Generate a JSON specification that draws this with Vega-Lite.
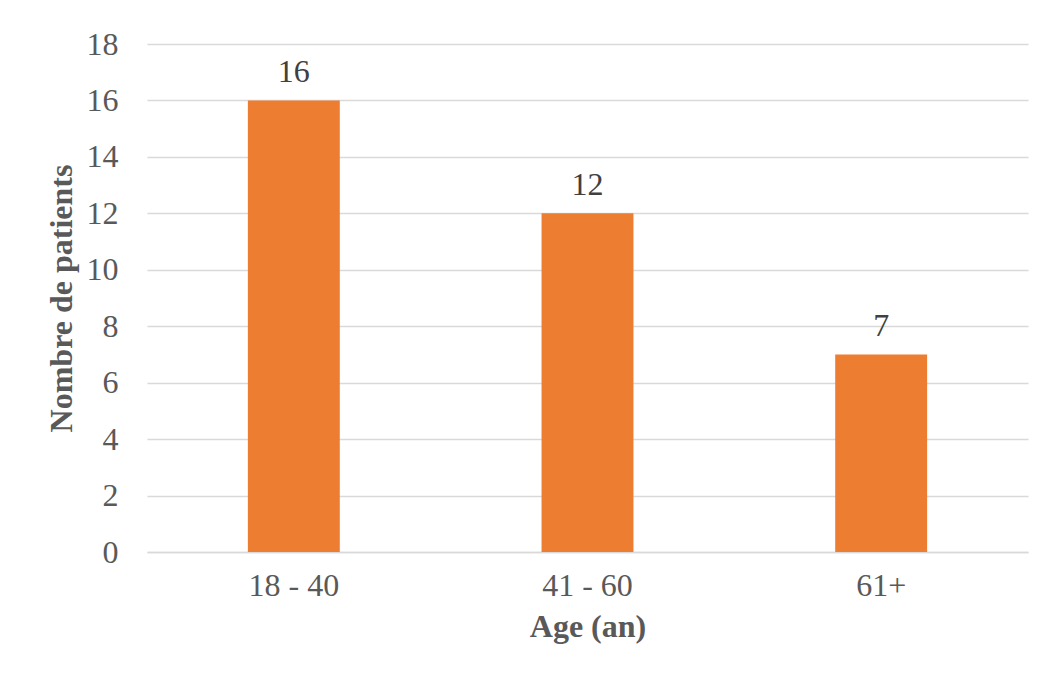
{
  "$schema": "https://vega.github.io/schema/vega-lite/v6.json",
  "autosize": {"type": "none"},
  "width": 881,
  "height": 508,
  "padding": {"left": 147, "top": 44, "right": 15, "bottom": 127},
  "background": "white",
  "config": {
    "font": "Liberation Serif",
    "view": {"stroke": null},
    "axis": {"labelFont": "Liberation Serif", "titleFont": "Liberation Serif"}
  },
  "data": {
    "values": [
      {"age": "18 - 40", "patients": 16},
      {"age": "41 - 60", "patients": 12},
      {"age": "61+", "patients": 7}
    ]
  },
  "encoding": {
    "x": {
      "field": "age",
      "type": "nominal",
      "sort": null,
      "scale": {"paddingInner": 0.687, "paddingOuter": 0.3435},
      "axis": {
        "title": "Age (an)",
        "labelAngle": 0,
        "labelFontSize": 32,
        "labelColor": "#595959",
        "labelPadding": 18,
        "ticks": false,
        "domainColor": "#d9d9d9",
        "domainWidth": 1.5,
        "titleFontSize": 32,
        "titleFontWeight": "bold",
        "titleColor": "#595959",
        "titlePadding": 10
      }
    },
    "y": {
      "field": "patients",
      "type": "quantitative",
      "scale": {"domain": [0, 18]},
      "axis": {
        "title": "Nombre de patients",
        "values": [0, 2, 4, 6, 8, 10, 12, 14, 16, 18],
        "labelFontSize": 32,
        "labelColor": "#595959",
        "labelPadding": 29,
        "ticks": false,
        "domain": false,
        "gridColor": "#d9d9d9",
        "gridWidth": 1.5,
        "titleFontSize": 32,
        "titleFontWeight": "bold",
        "titleColor": "#595959",
        "titlePadding": 8
      }
    }
  },
  "layer": [
    {"mark": {"type": "bar", "color": "#ED7D31"}},
    {
      "mark": {"type": "text", "baseline": "alphabetic", "dy": -18, "fontSize": 32, "color": "#404040"},
      "encoding": {"text": {"field": "patients", "type": "quantitative"}}
    }
  ]
}
